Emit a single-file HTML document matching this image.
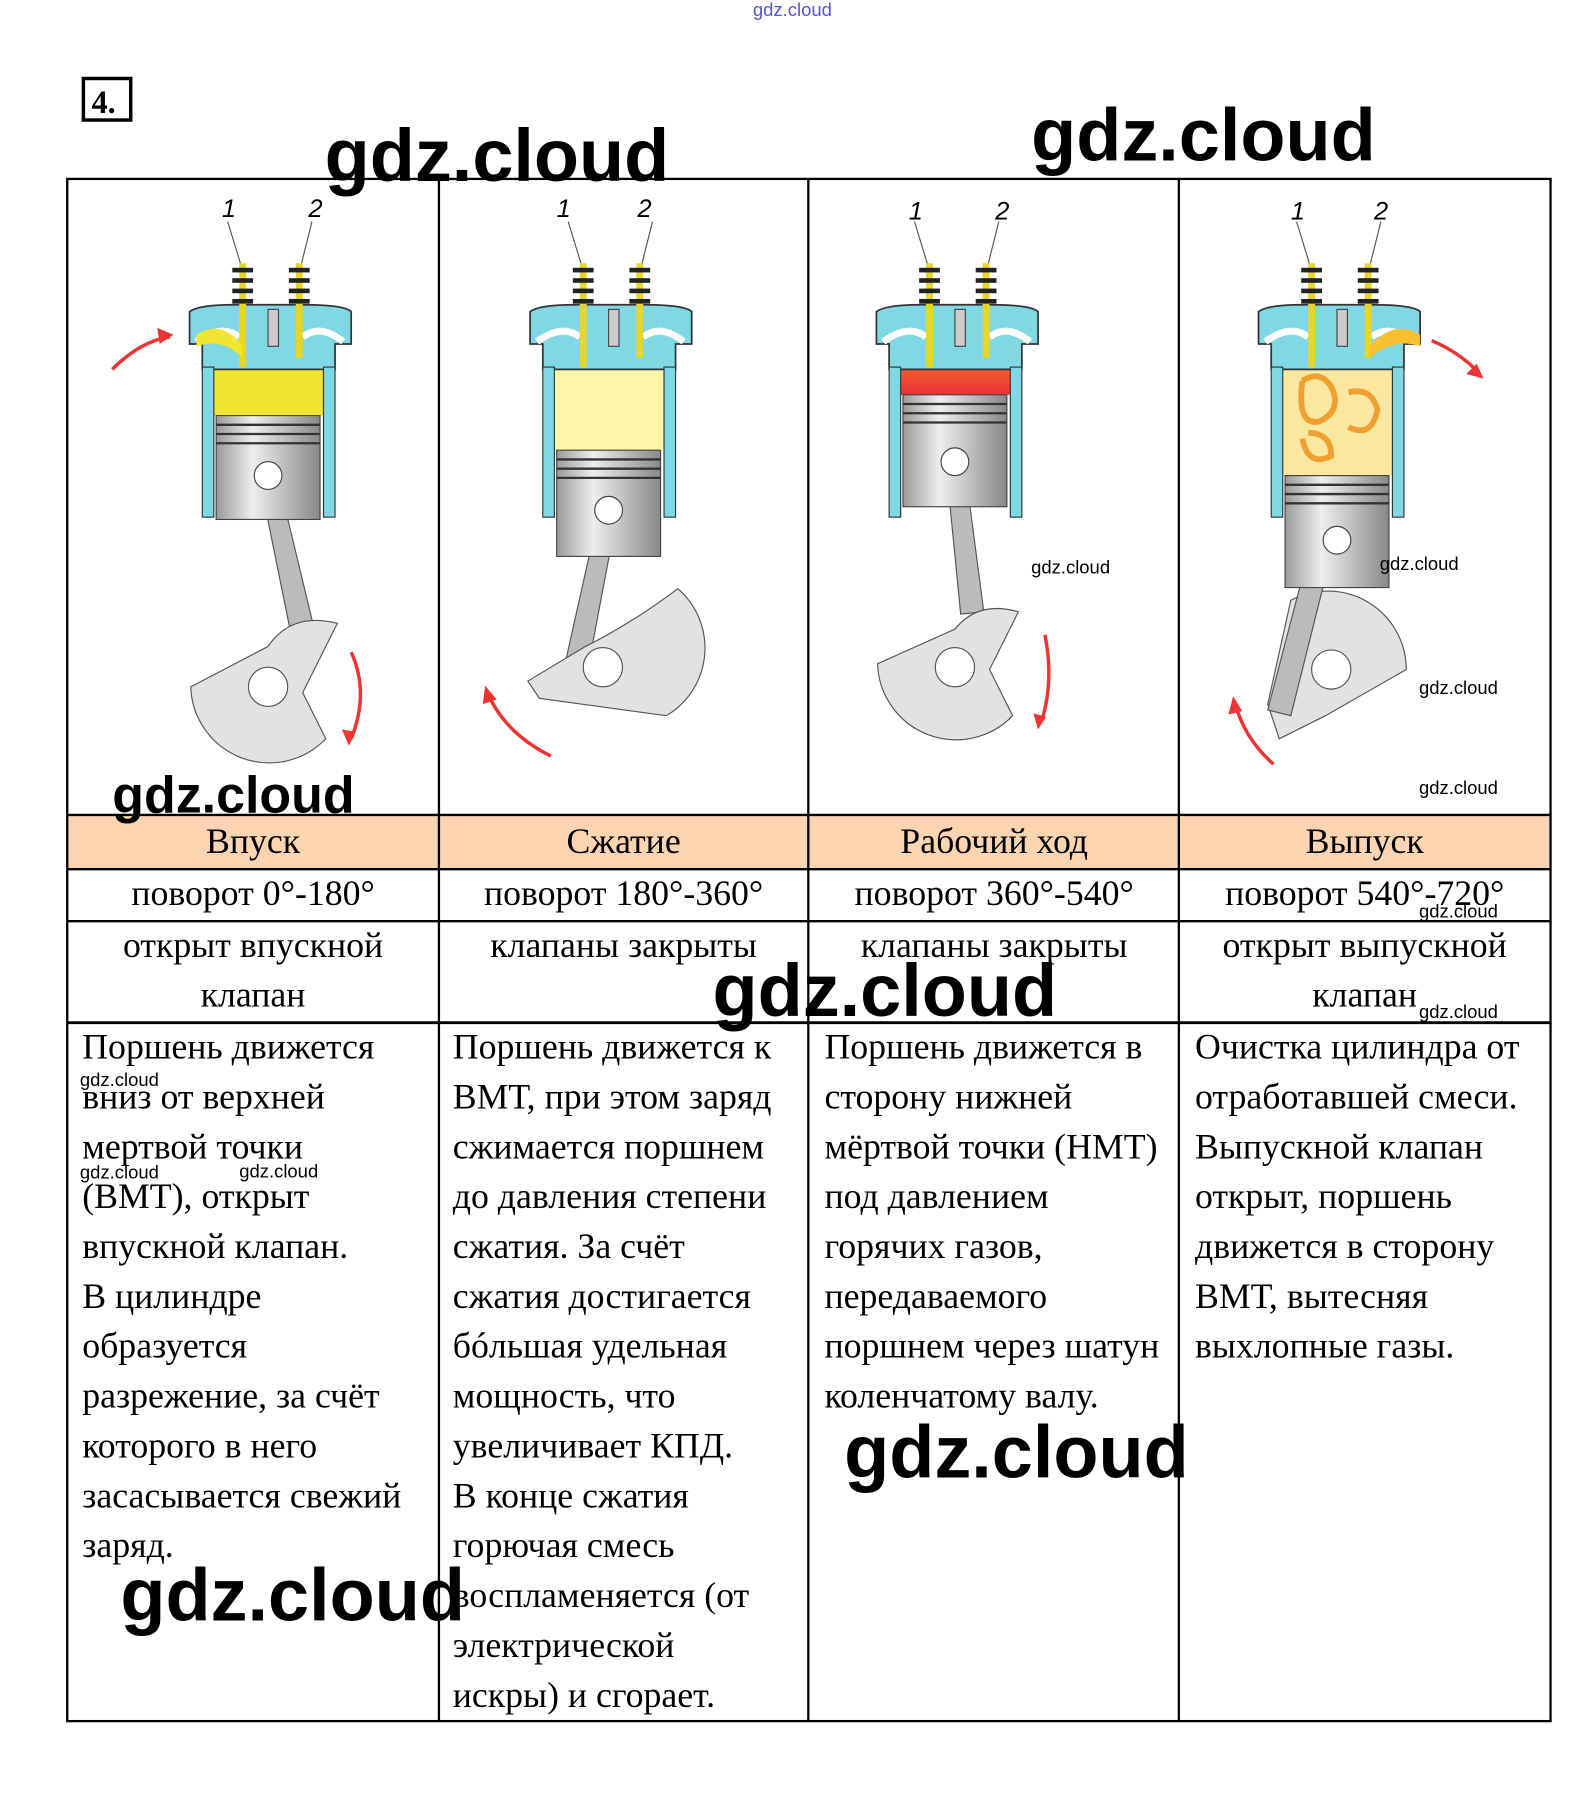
<!DOCTYPE html>
<html><head><meta charset="utf-8"><style>html,body{margin:0;padding:0;background:#fff}svg{display:block}</style></head><body>
<svg width="1582" height="1810" viewBox="0 0 1370 1568" xmlns="http://www.w3.org/2000/svg">
<defs>
<linearGradient id="pg" x1="0" x2="1"><stop offset="0" stop-color="#9a9a9a"/><stop offset=".35" stop-color="#eee"/><stop offset="1" stop-color="#888"/></linearGradient>
<linearGradient id="rg" x1="0" y1="0" x2="0" y2="1"><stop offset="0" stop-color="#f4e23a"/><stop offset=".5" stop-color="#f25a2a"/><stop offset="1" stop-color="#e8303a"/></linearGradient>
<g id="top">
<path d="M-68 298 L-68 270 Q-60 264 -30 264 L30 264 Q66 264 72 270 L72 298 L58 298 L58 320 L-57 320 L-57 298 Z" fill="#7fd8e4" stroke="#333" stroke-width="1.5"/>
<path d="M-62 296 Q-40 280 -25 292 M65 296 Q45 280 30 292" stroke="#fff" stroke-width="6" fill="none"/>
<rect x="-57" y="318" width="10" height="130" fill="#7fd8e4" stroke="#333"/>
<rect x="48" y="318" width="10" height="130" fill="#7fd8e4" stroke="#333"/>
<line x1="-22" y1="228" x2="-22" y2="318" stroke="#e8d52a" stroke-width="6"/>
<line x1="27" y1="228" x2="27" y2="310" stroke="#e8d52a" stroke-width="6"/>
<g fill="#222"><rect x="-31" y="232" width="18" height="4"/><rect x="-31" y="241" width="18" height="4"/><rect x="-31" y="250" width="18" height="4"/><rect x="-31" y="259" width="18" height="4"/>
<rect x="18" y="232" width="18" height="4"/><rect x="18" y="241" width="18" height="4"/><rect x="18" y="250" width="18" height="4"/><rect x="18" y="259" width="18" height="4"/></g>
<rect x="0" y="268" width="9" height="32" fill="#ccc" stroke="#444"/>
<line x1="-35" y1="192" x2="-24" y2="228" stroke="#555"/><line x1="38" y1="192" x2="29" y2="228" stroke="#555"/>
</g>
</defs>
<style>text{font-family:"Liberation Serif",serif}.t{font-size:31px}.h{font-size:31px}.w{font-family:"Liberation Sans",sans-serif;font-weight:bold}.ws{font-family:"Liberation Sans",sans-serif;font-size:16px}.n{font-family:"Liberation Sans",sans-serif;font-style:italic;font-size:22px}</style>
<text x="652" y="14" class="ws" font-size="13" fill="#55c">gdz.cloud</text>
<rect x="72" y="68" width="41" height="36" fill="none" stroke="#000" stroke-width="3"/>
<text x="79" y="98" font-size="28" font-weight="bold">4.</text>

<g transform="translate(232,0)">
<rect x="-47" y="300" width="95" height="60" fill="#f2e532"/>
<use href="#top"/>
<path d="M-62 290 Q-40 276 -22 300 L-22 310 Q-40 292 -62 300Z" fill="#f2e532"/>
<path d="M-8 412 L8 412 L40 545 L20 550Z" fill="#bbb" stroke="#555"/>
<path d="M-67 595 A68 68 0 0 0 50 640 L30 600 L60 540 Q20 530 0 560 Z" fill="#e2e2e2" stroke="#555"/>
<circle cx="0" cy="595" r="17" fill="#fff" stroke="#555"/>
<rect x="-45" y="360" width="90" height="90" fill="url(#pg)" stroke="#444"/>
<path d="M-45 368H45M-45 376H45M-45 384H45" stroke="#333" stroke-width="2"/>
<circle cx="0" cy="412" r="12" fill="#fff" stroke="#444"/>
<text x="-40" y="188" class="n">1</text><text x="35" y="188" class="n">2</text>
<path d="M-135 320 Q-110 295 -85 292" stroke="#e33" stroke-width="3" fill="none"/><path d="M-82 290 l-14 -6 l2 14z" fill="#e33"/>
<path d="M72 565 Q88 600 72 640" stroke="#e33" stroke-width="3" fill="none"/><path d="M70 646 l-6 -14 l12 2z" fill="#e33"/>
</g>
<g transform="translate(527,0)">
<rect x="-47" y="300" width="95" height="90" fill="#fbf6a8"/>
<use href="#top"/>
<path d="M-8 442 L8 442 L-20 590 L-40 585Z" fill="#bbb" stroke="#555"/>
<path d="M-70 590 L-20 560 Q20 540 60 510 A68 68 0 0 1 50 620 L-60 605Z" fill="#e2e2e2" stroke="#555"/>
<circle cx="-5" cy="578" r="17" fill="#fff" stroke="#555"/>
<rect x="-45" y="390" width="90" height="92" fill="url(#pg)" stroke="#444"/>
<path d="M-45 398H45M-45 406H45M-45 414H45" stroke="#333" stroke-width="2"/>
<circle cx="0" cy="442" r="12" fill="#fff" stroke="#444"/>
<text x="-45" y="188" class="n">1</text><text x="25" y="188" class="n">2</text>
<path d="M-50 655 Q-90 635 -105 600" stroke="#e33" stroke-width="3" fill="none"/><path d="M-107 594 l-2 16 l12 -4z" fill="#e33"/>
</g>
<g transform="translate(827,0)">
<rect x="-47" y="300" width="95" height="42" fill="url(#rg)"/>
<use href="#top"/>
<path d="M-8 400 L8 400 L25 530 L5 532Z" fill="#bbb" stroke="#555"/>
<path d="M-67 575 A68 68 0 0 0 50 620 L30 580 L55 530 Q20 520 0 545 Z" fill="#e2e2e2" stroke="#555"/>
<circle cx="0" cy="578" r="17" fill="#fff" stroke="#555"/>
<rect x="-45" y="342" width="90" height="97" fill="url(#pg)" stroke="#444"/>
<path d="M-45 350H45M-45 358H45M-45 366H45" stroke="#333" stroke-width="2"/>
<circle cx="0" cy="400" r="12" fill="#fff" stroke="#444"/>
<text x="-40" y="190" class="n">1</text><text x="35" y="190" class="n">2</text>
<path d="M78 550 Q86 590 75 625" stroke="#e33" stroke-width="3" fill="none"/><path d="M72 632 l-4 -14 l11 3z" fill="#e33"/>
</g>
<g transform="translate(1158,0)">
<rect x="-47" y="300" width="95" height="112" fill="#fbe7a0"/>
<path d="M-30 330 q15 -10 25 5 q10 20 -10 30 q-20 5 -15 -35 M10 340 q20 -5 25 15 q-5 25 -25 15 M-25 375 q20 0 20 20 q-20 10 -25 -15" stroke="#f0a030" stroke-width="5" fill="none"/>
<use href="#top"/>
<path d="M72 290 Q50 276 28 300 L28 310 Q50 292 72 300Z" fill="#f8c030"/>
<path d="M-40 520 A68 68 0 0 1 60 580 L-10 620 L-50 640 L-60 610Z" fill="#e2e2e2" stroke="#555"/>
<path d="M-30 500 L-10 500 L-40 620 L-60 615Z" fill="#bbb" stroke="#555"/>
<circle cx="-5" cy="580" r="17" fill="#fff" stroke="#555"/>
<rect x="-45" y="412" width="90" height="97" fill="url(#pg)" stroke="#444"/>
<path d="M-45 420H45M-45 428H45M-45 436H45" stroke="#333" stroke-width="2"/>
<circle cx="0" cy="468" r="12" fill="#fff" stroke="#444"/>
<text x="-40" y="190" class="n">1</text><text x="32" y="190" class="n">2</text>
<path d="M82 295 Q105 305 120 320" stroke="#e33" stroke-width="3" fill="none"/><path d="M127 328 l-15 -4 l9 -9z" fill="#e33"/>
<path d="M-55 662 Q-80 640 -88 610" stroke="#e33" stroke-width="3" fill="none"/><path d="M-90 603 l-4 16 l12 -3z" fill="#e33"/>
</g>

<rect x="58" y="706" width="1285" height="47" fill="#fbd4b2"/>
<g stroke="#000" stroke-width="2" fill="none">
<rect x="58" y="155" width="1285" height="1336"/>
<line x1="380" y1="155" x2="380" y2="1491"/><line x1="700" y1="155" x2="700" y2="1491"/><line x1="1021" y1="155" x2="1021" y2="1491"/>
<line x1="58" y1="706" x2="1343" y2="706"/><line x1="58" y1="753" x2="1343" y2="753"/><line x1="58" y1="798" x2="1343" y2="798"/><line x1="58" y1="886" x2="1343" y2="886" stroke-width="2.5"/>
</g>
<g text-anchor="middle">
<text x="219" y="739" class="h">Впуск</text><text x="540" y="739" class="h">Сжатие</text><text x="861" y="739" class="h">Рабочий ход</text><text x="1182" y="739" class="h">Выпуск</text>
<text x="219" y="784" class="h">поворот 0°-180°</text><text x="540" y="784" class="h">поворот 180°-360°</text><text x="861" y="784" class="h">поворот 360°-540°</text><text x="1182" y="784" class="h">поворот 540°-720°</text>
<text x="219" y="829" class="h">открыт впускной</text><text x="219" y="872" class="h">клапан</text>
<text x="540" y="829" class="h">клапаны закрыты</text><text x="861" y="829" class="h">клапаны закрыты</text>
<text x="1182" y="829" class="h">открыт выпускной</text><text x="1182" y="872" class="h">клапан</text>
</g>
<g>
<text x="71" y="917" class="t"><tspan x="71">Поршень движется</tspan><tspan x="71" dy="43.2">вниз от верхней</tspan><tspan x="71" dy="43.2">мертвой точки</tspan><tspan x="71" dy="43.2">(ВМТ), открыт</tspan><tspan x="71" dy="43.2">впускной клапан.</tspan><tspan x="71" dy="43.2">В цилиндре</tspan><tspan x="71" dy="43.2">образуется</tspan><tspan x="71" dy="43.2">разрежение, за счёт</tspan><tspan x="71" dy="43.2">которого в него</tspan><tspan x="71" dy="43.2">засасывается свежий</tspan><tspan x="71" dy="43.2">заряд.</tspan></text>
<text x="392" y="917" class="t"><tspan x="392">Поршень движется к</tspan><tspan x="392" dy="43.2">ВМТ, при этом заряд</tspan><tspan x="392" dy="43.2">сжимается поршнем</tspan><tspan x="392" dy="43.2">до давления степени</tspan><tspan x="392" dy="43.2">сжатия. За счёт</tspan><tspan x="392" dy="43.2">сжатия достигается</tspan><tspan x="392" dy="43.2">бóльшая удельная</tspan><tspan x="392" dy="43.2">мощность, что</tspan><tspan x="392" dy="43.2">увеличивает КПД.</tspan><tspan x="392" dy="43.2">В конце сжатия</tspan><tspan x="392" dy="43.2">горючая смесь</tspan><tspan x="392" dy="43.2">воспламеняется (от</tspan><tspan x="392" dy="43.2">электрической</tspan><tspan x="392" dy="43.2">искры) и сгорает.</tspan></text>
<text x="714" y="917" class="t"><tspan x="714">Поршень движется в</tspan><tspan x="714" dy="43.2">сторону нижней</tspan><tspan x="714" dy="43.2">мёртвой точки (НМТ)</tspan><tspan x="714" dy="43.2">под давлением</tspan><tspan x="714" dy="43.2">горячих газов,</tspan><tspan x="714" dy="43.2">передаваемого</tspan><tspan x="714" dy="43.2">поршнем через шатун</tspan><tspan x="714" dy="43.2">коленчатому валу.</tspan></text>
<text x="1035" y="917" class="t"><tspan x="1035">Очистка цилиндра от</tspan><tspan x="1035" dy="43.2">отработавшей смеси.</tspan><tspan x="1035" dy="43.2">Выпускной клапан</tspan><tspan x="1035" dy="43.2">открыт, поршень</tspan><tspan x="1035" dy="43.2">движется в сторону</tspan><tspan x="1035" dy="43.2">ВМТ, вытесняя</tspan><tspan x="1035" dy="43.2">выхлопные газы.</tspan></text>
</g>

<g>
<text x="281" y="157" font-size="64" class="w">gdz.cloud</text>
<text x="893" y="139" font-size="64" class="w">gdz.cloud</text>
<text x="97" y="704" font-size="45" class="w">gdz.cloud</text>
<text x="617" y="880" font-size="64" class="w">gdz.cloud</text>
<text x="731" y="1280" font-size="64" class="w">gdz.cloud</text>
<text x="104" y="1404" font-size="64" class="w">gdz.cloud</text>
</g>
<g>
<text x="893" y="497" font-size="19" class="ws">gdz.cloud</text>
<text x="1195" y="494" font-size="19" class="ws">gdz.cloud</text>
<text x="1229" y="601" font-size="15" class="ws">gdz.cloud</text>
<text x="1229" y="688" font-size="15" class="ws">gdz.cloud</text>
<text x="1229" y="795" font-size="15" class="ws">gdz.cloud</text>
<text x="1229" y="882" font-size="15" class="ws">gdz.cloud</text>
<text x="207" y="1020" font-size="19" class="ws">gdz.cloud</text>
<text x="69" y="941" font-size="11" class="ws">gdz.cloud</text>
<text x="69" y="1021" font-size="11" class="ws">gdz.cloud</text>
</g>
</svg>
</body></html>
